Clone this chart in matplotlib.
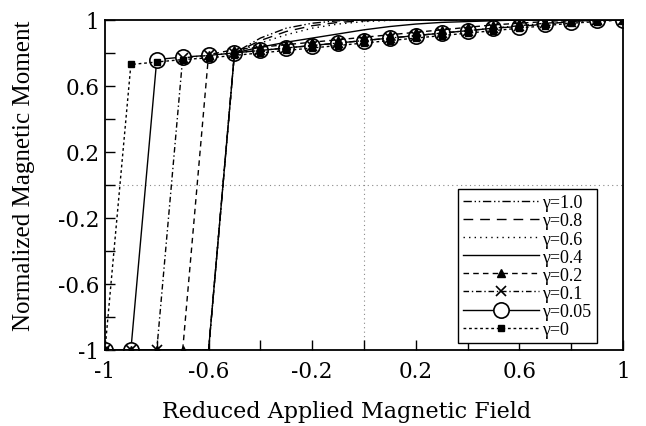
import numpy as np
import matplotlib

matplotlib.use("Agg")
import matplotlib.pyplot as plt  # noqa: E402

# ---------------------------------------------------------------------------
# Data
# ---------------------------------------------------------------------------

field = [-1.0, -0.9, -0.8, -0.7, -0.6, -0.5, -0.4, -0.3, -0.2, -0.1, 0.0,
         0.1, 0.2, 0.3, 0.4, 0.5, 0.6, 0.7, 0.8, 0.9, 1.0]

m_g100 = [-1, -1, -1, -1, -1, 0.80, 0.89, 0.95, 0.98, 0.995, 1.0,
          1.0, 1.0, 1.0, 1.0, 1.0, 1.0, 1.0, 1.0, 1.0, 1.0]
m_g080 = [-1, -1, -1, -1, -1, 0.80, 0.875, 0.93, 0.965, 0.985, 0.995,
          1.0, 1.0, 1.0, 1.0, 1.0, 1.0, 1.0, 1.0, 1.0, 1.0]
m_g060 = [-1, -1, -1, -1, -1, 0.80, 0.86, 0.91, 0.95, 0.975, 0.99,
          0.997, 1.0, 1.0, 1.0, 1.0, 1.0, 1.0, 1.0, 1.0, 1.0]
m_g040 = [-1, -1, -1, -1, -1, 0.80, 0.835, 0.865, 0.89, 0.915, 0.94,
          0.96, 0.975, 0.985, 0.99, 0.995, 1.0, 1.0, 1.0, 1.0, 1.0]
m_g020 = [-1, -1, -1, -1, 0.79, 0.82, 0.835, 0.85, 0.865, 0.88, 0.895,
          0.91, 0.925, 0.94, 0.955, 0.97, 0.98, 0.99, 1.0, 1.0, 1.0]
m_g010 = [-1, -1, -1, 0.77, 0.785, 0.80, 0.815, 0.83, 0.845, 0.86, 0.875,
          0.89, 0.905, 0.92, 0.935, 0.95, 0.965, 0.98, 0.99, 1.0, 1.0]
m_g005 = [-1, -1, 0.76, 0.775, 0.785, 0.80, 0.815, 0.83, 0.845, 0.86, 0.875,
          0.89, 0.905, 0.92, 0.935, 0.95, 0.96, 0.975, 0.99, 1.0, 1.0]
m_g000 = [-1, 0.73, 0.745, 0.76, 0.77, 0.785, 0.80, 0.815, 0.83, 0.845, 0.86,
          0.875, 0.89, 0.905, 0.92, 0.935, 0.95, 0.965, 0.98, 0.99, 1.0]

tick_values = [-1.0, -0.8, -0.6, -0.4, -0.2, 0.0, 0.2, 0.4, 0.6, 0.8, 1.0]
tick_labels = ["-1", "", "-0.6", "", "-0.2", "", "0.2", "", "0.6", "", "1"]

# ---------------------------------------------------------------------------
# Styles
# ---------------------------------------------------------------------------

SERIF_WIDE = "DejaVu Serif"
SERIF = "Liberation Serif"

series = [
    (m_g100, "\u03b3=1.0", dict(linestyle=(0, (6, 2, 1, 2, 1, 2)))),
    (m_g080, "\u03b3=0.8", dict(linestyle=(0, (7, 5)))),
    (m_g060, "\u03b3=0.6", dict(linestyle=(0, (1, 3)))),
    (m_g040, "\u03b3=0.4", dict(linestyle="-")),
    (m_g020, "\u03b3=0.2", dict(linestyle=(0, (4, 3)), marker="^",
                                markersize=6, markerfacecolor="black")),
    (m_g010, "\u03b3=0.1", dict(linestyle=(0, (4, 2, 1, 2)), marker="x",
                                markersize=7, markeredgewidth=1.2)),
    (m_g005, "\u03b3=0.05", dict(linestyle="-", marker="o", markersize=11,
                                 markerfacecolor="white",
                                 markeredgewidth=1.2, zorder=2)),
    (m_g000, "\u03b3=0", dict(linestyle=(0, (2, 2)), marker="s",
                              markersize=5, markerfacecolor="black")),
]

fig = plt.figure(figsize=(6.46, 4.27), dpi=100)
ax = fig.add_axes([0.1625, 0.178, 0.8019, 0.773])

# dotted reference lines through the origin
ax.axhline(0, color="#888888", linewidth=0.8, linestyle=(0, (1, 3)), zorder=1)
ax.axvline(0, color="#888888", linewidth=0.8, linestyle=(0, (1, 3)), zorder=1)

for values, label, style in series:
    kw = dict(color="black", linewidth=1.0, zorder=3)
    kw.update(style)
    ax.plot(field, values, label=label, **kw)

ax.set_xlim(-1, 1)
ax.set_ylim(-1, 1)
ax.set_xticks(tick_values)
ax.set_xticklabels(tick_labels, family=SERIF_WIDE, fontsize=15.5)
ax.set_yticks(tick_values)
ax.set_yticklabels(tick_labels, family=SERIF_WIDE, fontsize=15.5)
ax.tick_params(direction="in", length=7, width=1)
ax.tick_params(axis="x", pad=7)
ax.tick_params(axis="y", pad=4)

for spine in ax.spines.values():
    spine.set_linewidth(1.3)

ax.set_xlabel("Reduced Applied Magnetic Field", family=SERIF_WIDE,
              fontsize=16)
ax.xaxis.set_label_coords(0.467, -0.152)
ax.set_ylabel("Normalized Magnetic Moment", family=SERIF, fontsize=18)
ax.yaxis.set_label_coords(-0.135, 0.53)

leg = ax.legend(loc="lower right", bbox_to_anchor=(0.95, 0.02),
                borderaxespad=0, numpoints=1, handlelength=4.2,
                handletextpad=0.2, labelspacing=0.06, borderpad=0.3,
                fancybox=False, framealpha=1, edgecolor="black",
                prop={"family": SERIF, "size": 13})
leg.get_frame().set_linewidth(1.0)

fig.savefig("out.png", dpi=100)
